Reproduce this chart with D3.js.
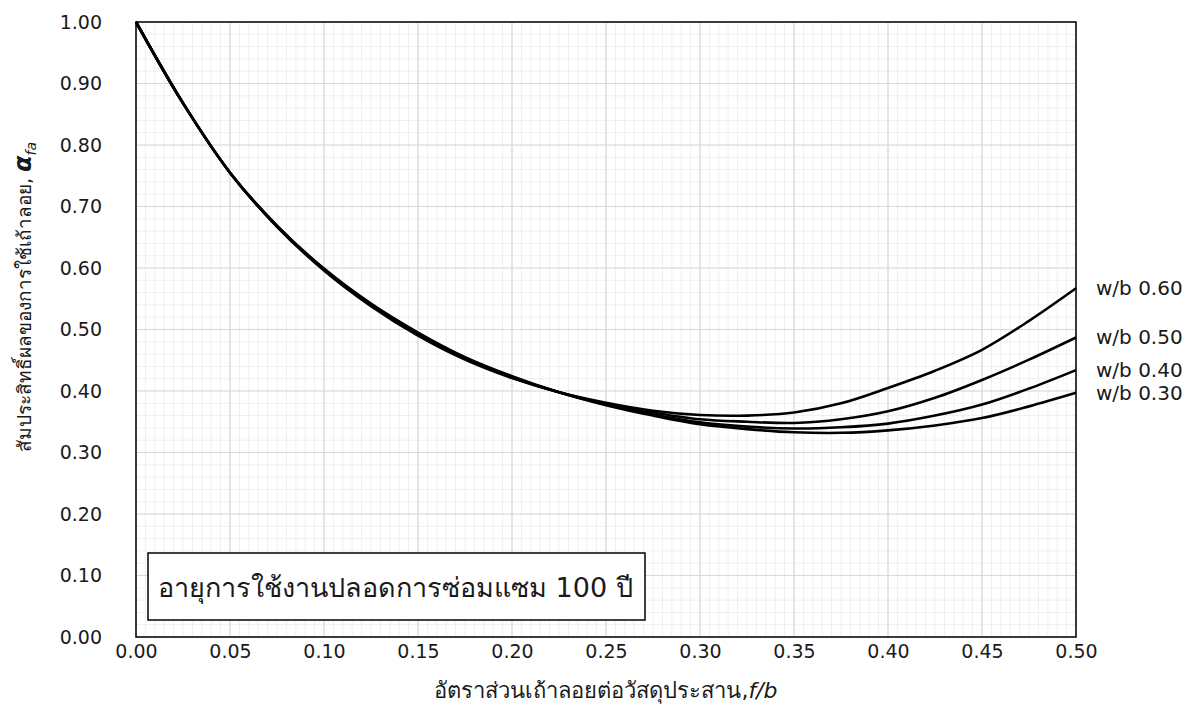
<!DOCTYPE html>
<html>
<head>
<meta charset="utf-8">
<script src="https://cdn.jsdelivr.net/npm/d3@7"></script>
<style>
  html, body { margin: 0; padding: 0; background: #fff; }
  svg { display: block; }
  text { font-family: "DejaVu Sans", "Noto Sans", sans-serif; fill: #1a1a1a; }
</style>
</head>
<body>
<svg id="chart" width="1200" height="727"></svg>
<script>
// Fly-ash ratio (f/b) sample points
const fbRatio = [0, 0.025, 0.05, 0.075, 0.1, 0.125, 0.15, 0.175, 0.2, 0.225, 0.25,
                 0.275, 0.3, 0.325, 0.35, 0.375, 0.4, 0.425, 0.45, 0.475, 0.5];

// Fly-ash effectiveness coefficient α_fa for each water/binder ratio
const wb060 = [1.000, 0.868, 0.755, 0.667, 0.596, 0.538, 0.490, 0.451, 0.421, 0.398, 0.381,
               0.368, 0.361, 0.360, 0.365, 0.380, 0.405, 0.433, 0.467, 0.514, 0.567];
const wb050 = [1.000, 0.868, 0.755, 0.668, 0.597, 0.540, 0.492, 0.453, 0.422, 0.398, 0.379,
               0.365, 0.354, 0.350, 0.348, 0.354, 0.367, 0.389, 0.418, 0.451, 0.487];
const wb040 = [1.000, 0.868, 0.755, 0.668, 0.598, 0.541, 0.494, 0.454, 0.423, 0.398, 0.378,
               0.362, 0.349, 0.342, 0.339, 0.341, 0.347, 0.360, 0.378, 0.404, 0.434];
const wb030 = [1.000, 0.868, 0.755, 0.669, 0.599, 0.542, 0.495, 0.455, 0.424, 0.398, 0.377,
               0.360, 0.346, 0.338, 0.333, 0.332, 0.336, 0.344, 0.356, 0.375, 0.397];

const seriesLabels = ["w/b 0.60", "w/b 0.50", "w/b 0.40", "w/b 0.30"];
const seriesValues = [wb060, wb050, wb040, wb030];

const xTicks = [0, 0.05, 0.1, 0.15, 0.2, 0.25, 0.3, 0.35, 0.4, 0.45, 0.5];
const yTicks = [0, 0.1, 0.2, 0.3, 0.4, 0.5, 0.6, 0.7, 0.8, 0.9, 1.0];

const yTitle = "สัมประสิทธิ์ผลของการใช้เถ้าลอย, ";
const xTitle = "อัตราส่วนเถ้าลอยต่อวัสดุประสาน,";
const noteText = "อายุการใช้งานปลอดการซ่อมแซม 100 ปี";

const svg = d3.select("#chart");
const plot = { left: 136, right: 1076, top: 22, bottom: 637 };

const x = d3.scaleLinear().domain([0, 0.5]).range([plot.left, plot.right]);
const y = d3.scaleLinear().domain([0, 1]).range([plot.bottom, plot.top]);

// Minor grid
const grid = svg.append("g");
grid.selectAll(".vminor").data(d3.range(0, 101).map(i => i * 0.005)).join("line")
  .attr("x1", d => x(d)).attr("x2", d => x(d))
  .attr("y1", plot.top).attr("y2", plot.bottom)
  .attr("stroke", "#efefef").attr("stroke-width", 1);
grid.selectAll(".hminor").data(d3.range(0, 51).map(i => i * 0.02)).join("line")
  .attr("y1", d => y(d)).attr("y2", d => y(d))
  .attr("x1", plot.left).attr("x2", plot.right)
  .attr("stroke", "#efefef").attr("stroke-width", 1);

// Major grid
grid.selectAll(".vmajor").data(xTicks).join("line")
  .attr("x1", d => x(d)).attr("x2", d => x(d))
  .attr("y1", plot.top).attr("y2", plot.bottom)
  .attr("stroke", "#d9d9d9").attr("stroke-width", 1.2);
grid.selectAll(".hmajor").data(yTicks).join("line")
  .attr("y1", d => y(d)).attr("y2", d => y(d))
  .attr("x1", plot.left).attr("x2", plot.right)
  .attr("stroke", "#d9d9d9").attr("stroke-width", 1.2);

// Axes (labels only)
const xAxis = svg.append("g")
  .attr("transform", `translate(0,${plot.bottom})`)
  .call(d3.axisBottom(x).tickValues(xTicks).tickFormat(d3.format(".2f")).tickSize(0).tickPadding(8));
const yAxis = svg.append("g")
  .attr("transform", `translate(${plot.left},0)`)
  .call(d3.axisLeft(y).tickValues(yTicks).tickFormat(d3.format(".2f")).tickSize(0).tickPadding(34));
[xAxis, yAxis].forEach(a => {
  a.select(".domain").remove();
  a.selectAll("text").attr("font-family", "DejaVu Sans, sans-serif")
    .attr("font-size", 19).attr("fill", "#1a1a1a");
});

// Curves
const line = d3.line()
  .x((d, i) => x(fbRatio[i]))
  .y(d => y(d))
  .curve(d3.curveCatmullRom.alpha(0.5));

svg.append("g").selectAll("path").data(seriesValues).join("path")
  .attr("d", d => line(d))
  .attr("fill", "none")
  .attr("stroke", "#000")
  .attr("stroke-width", 2.6)
  .attr("stroke-linejoin", "round");

// Series labels at line ends
svg.append("g").selectAll("text").data(seriesValues).join("text")
  .attr("x", plot.right + 20)
  .attr("y", d => y(d[d.length - 1]))
  .attr("dy", "0.35em")
  .attr("font-size", 20)
  .text((d, i) => seriesLabels[i]);

// Plot frame
svg.append("rect")
  .attr("x", plot.left).attr("y", plot.top)
  .attr("width", plot.right - plot.left).attr("height", plot.bottom - plot.top)
  .attr("fill", "none").attr("stroke", "#000").attr("stroke-width", 1.5);

// Annotation box
const note = svg.append("g");
note.append("rect")
  .attr("x", 148).attr("y", 553).attr("width", 497).attr("height", 67)
  .attr("fill", "#fff").attr("stroke", "#000").attr("stroke-width", 1.5);
note.append("text")
  .attr("x", 158).attr("y", 597)
  .attr("font-size", 27)
  .text(noteText);

// Y title
const yt = svg.append("text")
  .attr("transform", "translate(31,297) rotate(-90)")
  .attr("text-anchor", "middle")
  .attr("font-size", 19);
yt.append("tspan").text(yTitle);
yt.append("tspan").attr("font-weight", "bold").attr("font-style", "italic").attr("font-size", 24).text("α");
yt.append("tspan").attr("font-style", "italic").attr("font-size", 14).attr("dy", 5).text("fa");

// X title
const xt = svg.append("text")
  .attr("x", 606).attr("y", 698)
  .attr("text-anchor", "middle")
  .attr("font-size", 22);
xt.append("tspan").text(xTitle);
xt.append("tspan").attr("font-style", "italic").text("f/b");
</script>
</body>
</html>
